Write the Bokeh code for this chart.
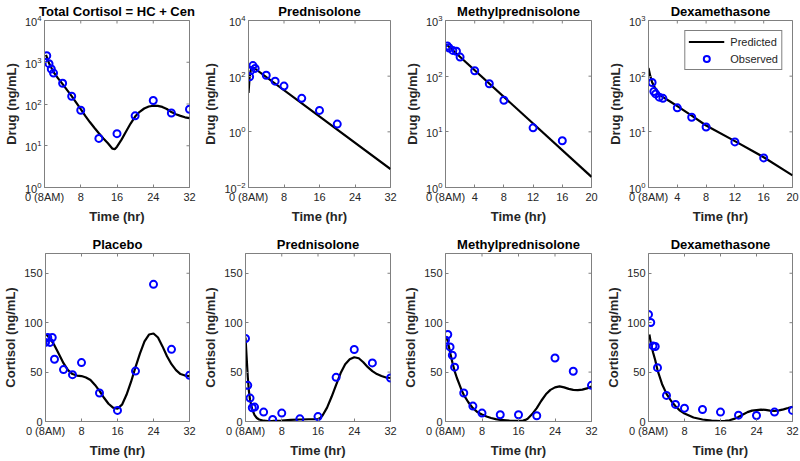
import math
from bokeh.plotting import figure
from bokeh.layouts import column, row
from bokeh.models import Range1d, FixedTicker, CustomJSTickFormatter, Legend, LegendItem
from bokeh.embed import file_html
from bokeh.resources import INLINE

FONT = "Liberation Sans"

# ---------------- data ----------------
# Top row: drug concentrations (log scale)
tc_obs_t = [0.5, 1, 1.5, 2, 4, 6, 8, 12, 16, 20, 24, 28, 32]
tc_obs_v = [1440, 925, 690, 550, 315, 153, 71, 15, 19.5, 52, 121, 61, 75]
tc_pred_t = [0.33, 1, 2, 3, 4, 5, 6, 7, 8, 9, 10, 11, 12, 13, 14, 15, 15.5, 16, 17,
             18, 19, 20, 21, 22, 23, 24, 25, 26, 27, 28, 29, 30, 31, 32]
tc_pred_v = [1500, 950, 580, 410, 300, 215, 155, 108, 75, 52, 37, 27, 20, 15, 11.5, 8.5,
             8.3, 9.5, 14, 22, 34, 50, 65, 78, 87, 91, 90, 85, 76, 64, 57, 52, 48, 46]

pred_obs_t = [0.25, 0.5, 1, 1.5, 4, 6, 8, 12, 16, 20]
pred_obs_v = [95, 160, 240, 190, 108, 66, 44, 16, 5.9, 1.9]
pred_pred_t = [0, 0.25, 0.5, 0.8, 1.2, 32]
pred_pred_v = [25, 90, 160, 205, 200, 0.046]

mp_obs_t = [0.25, 0.5, 1, 1.5, 2, 4, 6, 8, 12, 16]
mp_obs_v = [350, 320, 290, 280, 220, 125, 73, 37, 11.8, 6.9]
mp_pred_t = [0.1, 20]
mp_pred_v = [375, 1.55]

dex_obs_t = [0.5, 0.75, 1, 1.5, 2, 4, 6, 8, 12, 16]
dex_obs_v = [77, 53, 48, 42, 40, 27, 18.3, 12.2, 6.6, 3.4]
dex_pred_t = [0, 0.25, 0.5, 1, 1.5, 2, 3, 4, 6, 8, 12, 16, 20]
dex_pred_v = [140, 100, 78, 58, 48, 42, 35, 29, 19.5, 13, 6.8, 3.5, 1.65]

# Bottom row: cortisol (linear scale)
plc_obs_t = [0, 0.5, 1, 1.5, 2, 4, 6, 8, 12, 16, 20, 24, 28, 32]
plc_obs_v = [80, 85, 80, 85, 63, 52.5, 47.4, 59.6, 28.8, 11.2, 51, 138.8, 73, 46.7]
plc_pred_t = [0.2, 1, 2, 3, 4, 5, 6, 7, 8, 9, 10, 11, 12, 13, 14, 15, 16, 17, 18, 19,
              20, 21, 22, 23, 24, 25, 26, 27, 28, 29, 30, 31, 32]
plc_pred_v = [88, 84, 77, 68, 59, 52, 48, 46.5, 46, 44.5, 42, 37, 31, 24, 18, 14, 13, 17,
              27, 40, 55, 69, 81, 88, 89, 85, 76, 66, 58, 52, 48, 46.5, 46]

cp_obs_t = [0, 0.5, 1, 1.5, 2, 4, 6, 8, 12, 16, 20, 24, 28, 32]
cp_obs_v = [84, 36.6, 23.7, 13.9, 14.6, 9.5, 2, 8.5, 2.7, 5, 44.7, 72.8, 59.3, 44]
cp_pred_t = [0, 0.25, 0.5, 0.75, 1, 1.5, 2, 2.5, 3, 4, 5, 6, 8, 10, 12, 14, 16, 16.5,
             17, 18, 19, 20, 21, 22, 23, 24, 25, 26, 27, 28, 29, 30, 31, 32]
cp_pred_v = [85, 65, 45, 31, 22, 12, 6.5, 3.5, 2, 0.8, 0.5, 0.6, 1, 1.6, 2, 2.3, 2.5, 3.5,
             6, 14, 25, 37, 49, 58, 63, 65, 64, 60, 55, 51, 48, 46, 44.5, 44]

cm_obs_t = [0, 0.5, 1, 1.5, 2, 4, 6, 8, 12, 16, 20, 24, 28, 32]
cm_obs_v = [82.3, 88, 75.5, 67, 55, 28.8, 15.6, 8.5, 6.8, 6.8, 5.8, 64.3, 50.8, 36.6]
cm_pred_t = [0.2, 0.5, 1, 1.5, 2, 2.5, 3, 3.5, 4, 5, 6, 7, 8, 9, 10, 11, 12, 14, 16, 17,
             17.5, 18, 19, 20, 21, 22, 23, 24, 25, 26, 27, 28, 29, 30, 31, 32]
cm_pred_v = [86, 81, 70, 60, 51, 44, 38, 32, 27, 19.5, 13.5, 9.5, 7, 5, 3.5, 2.4, 1.7, 0.9,
             0.6, 0.9, 1.6, 2.8, 7.5, 13.5, 21, 27.5, 32, 34.5, 35.5, 34.5, 33, 32, 31.8,
             32.2, 33.5, 35.5]

cd_obs_t = [0, 0.5, 1, 1.5, 2, 4, 6, 8, 12, 16, 20, 24, 28, 32]
cd_obs_v = [108.4, 100.2, 76.5, 75.9, 54.5, 26.4, 17.3, 13.5, 12.2, 9.5, 6.4, 6.1, 9.5, 11.2]
cd_pred_t = [0.2, 0.5, 1, 1.5, 2, 2.5, 3, 3.5, 4, 5, 6, 7, 8, 9, 10, 11, 12, 14, 16, 17,
             18, 19, 20, 21, 22, 23, 24, 25, 26, 27, 28, 29, 30, 31, 32]
cd_pred_v = [88, 80, 70, 62, 52, 45, 38, 33, 28, 21, 15.5, 11, 8, 6, 4, 3, 2, 0.8, 0.3,
             0.6, 1.3, 2.6, 4.5, 7, 9.5, 11, 11.5, 12, 11.7, 11, 10.6, 11.2, 12.3, 13.6, 15]

titles_top = ["Total Cortisol = HC + Cen", "Prednisolone", "Methylprednisolone", "Dexamethasone"]
titles_bot = ["Placebo", "Prednisolone", "Methylprednisolone", "Dexamethasone"]
xticks_32 = [0, 8, 16, 24, 32]
xticks_20 = [0, 4, 8, 12, 16, 20]
yticks_log_a = [1, 10, 100, 1000, 10000]
yticks_log_b = [0.01, 1, 100, 10000]
yticks_log_c = [1, 10, 100, 1000]
yticks_lin = [0, 50, 100, 150]
legend_labels = ["Predicted", "Observed"]

# ---------------- helpers ----------------
X_FMT = "return tick == 0 ? '0 (8AM)' : String(tick);"

AX = "#808080"
TXT = "#262626"


def panel(title, obs_t, obs_v, pr_t, pr_v, xmax, xticks, yr, yticks, ylog, ylabel,
          w, h, bl, br, bt, bb, legend=False):
    kw = {"y_axis_type": "log"} if ylog else {}
    p = figure(width=w, height=h, x_range=Range1d(0, xmax), y_range=Range1d(*yr),
               output_backend="svg", toolbar_location=None,
               min_border_left=bl, min_border_right=br, min_border_top=bt,
               min_border_bottom=bb, **kw)
    p.title.text = title
    p.title.align = "center"
    p.title.text_font = FONT
    p.title.text_font_size = "13px"
    p.title.text_font_style = "bold"
    p.title.text_color = "black"
    p.title.standoff = 3
    p.grid.visible = False
    p.outline_line_color = AX
    p.outline_line_width = 1
    p.background_fill_color = "white"
    p.border_fill_color = "white"

    p.xaxis.ticker = FixedTicker(ticks=xticks, minor_ticks=[])
    p.yaxis.ticker = FixedTicker(ticks=yticks, minor_ticks=[])
    p.xaxis.formatter = CustomJSTickFormatter(code=X_FMT)
    for ax in (p.xaxis, p.yaxis):
        ax.axis_line_color = AX
        ax.major_tick_line_color = AX
        ax.major_tick_in = 3
        ax.major_tick_out = 0
        ax.minor_tick_line_color = None
        ax.major_label_text_font = FONT
        ax.major_label_text_font_size = "11px"
        ax.major_label_text_color = TXT
        ax.major_label_standoff = 3
        ax.axis_label_text_font = FONT
        ax.axis_label_text_font_size = "13px"
        ax.axis_label_text_font_style = "bold"
        ax.axis_label_text_color = TXT
        ax.axis_label_standoff = 3
    p.xaxis.axis_label = "Time (hr)"
    p.yaxis.axis_label = ylabel

    # mirrored inward ticks on the top and right edges of the box (half clipped by frame)
    p.scatter(xticks, [yr[1]] * len(xticks), marker="dash", angle=math.pi / 2, size=6,
              line_color=AX, line_width=1)
    p.scatter([xmax] * len(yticks), yticks, marker="dash", size=6,
              line_color=AX, line_width=1)

    lr = p.line(pr_t, pr_v, line_color="black", line_width=2.2)
    sr = p.scatter(obs_t, obs_v, marker="circle", size=7, fill_color=None,
                   line_color="#0000ff", line_width=2)
    if legend:
        lg = Legend(items=[LegendItem(label=legend_labels[0], renderers=[lr]),
                           LegendItem(label=legend_labels[1], renderers=[sr])],
                    location="top_right")
        lg.border_line_color = "black"
        lg.border_line_width = 1
        lg.background_fill_alpha = 1
        lg.label_text_font = FONT
        lg.label_text_font_size = "11px"
        lg.label_text_color = TXT
        lg.glyph_width = 36
        lg.glyph_height = 15
        lg.label_height = 15
        lg.label_standoff = 6
        lg.padding = 3
        lg.spacing = 2
        lg.margin = 10
        p.add_layout(lg)
    return p


W = 200
HT, HB = 230, 230
BL = [42, 43, 45, 48]
BR = [11, 10, 9, 8]

top = [
    panel(titles_top[0], tc_obs_t, tc_obs_v, tc_pred_t, tc_pred_v, 32, xticks_32,
          (1, 1e4), yticks_log_a, True, "Drug (ng/mL)", W, HT, BL[0], BR[0], 19, 43),
    panel(titles_top[1], pred_obs_t, pred_obs_v, pred_pred_t, pred_pred_v, 32, xticks_32,
          (0.01, 1e4), yticks_log_b, True, "Drug (ng/mL)", W, HT, BL[1], BR[1], 19, 43),
    panel(titles_top[2], mp_obs_t, mp_obs_v, mp_pred_t, mp_pred_v, 20, xticks_20,
          (1, 1e3), yticks_log_c, True, "Drug (ng/mL)", W, HT, BL[2], BR[2], 19, 43),
    panel(titles_top[3], dex_obs_t, dex_obs_v, dex_pred_t, dex_pred_v, 20, xticks_20,
          (1, 1e3), yticks_log_c, True, "Drug (ng/mL)", W, HT, BL[3], BR[3], 19, 43,
          legend=True),
]
bot = [
    panel(titles_bot[0], plc_obs_t, plc_obs_v, plc_pred_t, plc_pred_v, 32, xticks_32,
          (0, 170), yticks_lin, False, "Cortisol (ng/mL)", W, HB, BL[0], BR[0], 23, 39),
    panel(titles_bot[1], cp_obs_t, cp_obs_v, cp_pred_t, cp_pred_v, 32, xticks_32,
          (0, 170), yticks_lin, False, "Cortisol (ng/mL)", W, HB, BL[1], BR[1], 23, 39),
    panel(titles_bot[2], cm_obs_t, cm_obs_v, cm_pred_t, cm_pred_v, 32, xticks_32,
          (0, 170), yticks_lin, False, "Cortisol (ng/mL)", W, HB, BL[2], BR[2], 23, 39),
    panel(titles_bot[3], cd_obs_t, cd_obs_v, cd_pred_t, cd_pred_v, 32, xticks_32,
          (0, 170), yticks_lin, False, "Cortisol (ng/mL)", W, HB, BL[3], BR[3], 23, 39),
]

layout = column(row(*top), row(*bot))
open("out.html", "w").write(file_html(layout, INLINE))
